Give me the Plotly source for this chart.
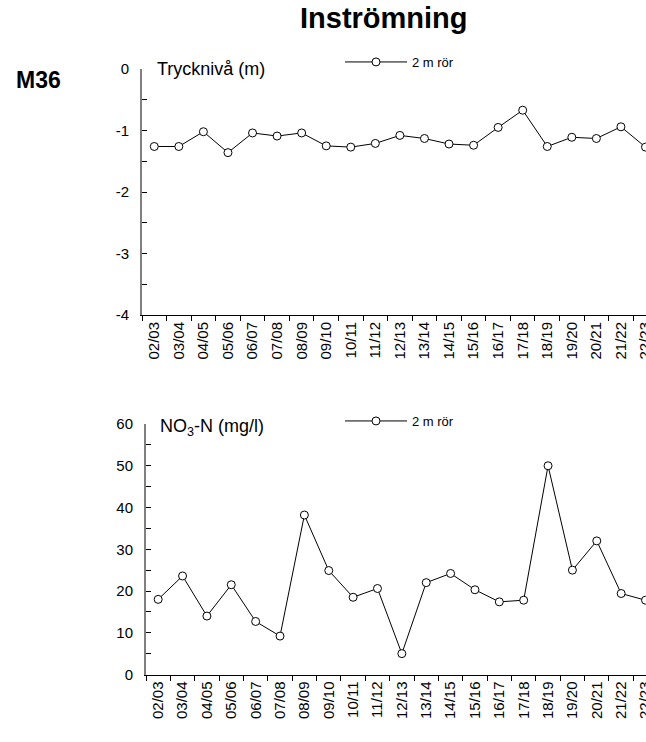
import plotly.graph_objects as go

W, H = 646, 742

seasons = ["02/03", "03/04", "04/05", "05/06", "06/07", "07/08", "08/09", "09/10",
           "10/11", "11/12", "12/13", "13/14", "14/15", "15/16", "16/17", "17/18",
           "18/19", "19/20", "20/21", "21/22", "22/23"]

tryckniva_2m = [-1.26, -1.26, -1.02, -1.36, -1.04, -1.09, -1.04, -1.25, -1.27, -1.21,
                -1.08, -1.13, -1.22, -1.24, -0.95, -0.67, -1.26, -1.11, -1.13, -0.94, -1.27]

no3n_2m = [18.0, 23.6, 14.0, 21.5, 12.7, 9.2, 38.2, 24.9, 18.5, 20.6, 5.0, 22.0,
           24.2, 20.3, 17.4, 17.8, 50.0, 25.0, 32.0, 19.4, 17.8]

top_ticks = [0, -1, -2, -3, -4]
top_ticktext = ["0", "-1", "-2", "-3", "-4"]
bot_ticks = [0, 10, 20, 30, 40, 50, 60]
bot_ticktext = ["0", "10", "20", "30", "40", "50", "60"]

series_name = "2 m rör"
title_text = "Inströmning"
site_text = "M36"
top_label = "Trycknivå (m)"
bot_label = "NO<sub>3</sub>-N (mg/l)"

FONT = "Liberation Sans, Arial, sans-serif"


def px(x):
    return x / W


def py(y):
    return 1 - y / H


top_left = 142
bot_left = 146
x_end = 20.02  # last category sits right at the picture's edge, as in the reference

fig = go.Figure()
marker = dict(symbol="circle", size=8, color="white", line=dict(color="black", width=1))
fig.add_trace(go.Scatter(x=seasons, y=tryckniva_2m, mode="lines+markers", name=series_name,
                         line=dict(color="black", width=1), marker=marker,
                         xaxis="x", yaxis="y", legend="legend"))
fig.add_trace(go.Scatter(x=seasons, y=no3n_2m, mode="lines+markers", name=series_name,
                         line=dict(color="black", width=1), marker=marker,
                         xaxis="x2", yaxis="y2", legend="legend2"))

xcommon = dict(type="category", tickson="boundaries", ticks="outside",
               ticklen=5, tickcolor="black", tickangle=-90, showline=True, linecolor="black",
               linewidth=1, showgrid=False, zeroline=False, range=[-0.5, x_end],
               ticklabeloverflow="allow", automargin=False,
               tickfont=dict(family=FONT, size=15, color="black"))
ycommon = dict(ticks="inside", ticklen=5, tickcolor="black", showline=True, linecolor="#808080",
               linewidth=2, showgrid=False, zeroline=False, ticklabelstandoff=8,
               automargin=False,
               tickfont=dict(family=FONT, size=15, color="black"))

legend_style = dict(xanchor="left", yanchor="middle", bgcolor="rgba(0,0,0,0)",
                    font=dict(family=FONT, size=13, color="black"), itemwidth=62)

fig.update_layout(
    width=W, height=H, margin=dict(l=0, r=0, t=0, b=0, autoexpand=False),
    paper_bgcolor="white", plot_bgcolor="white", showlegend=True,
    xaxis=dict(domain=[px(top_left), 1], anchor="y", **xcommon),
    yaxis=dict(domain=[py(315), py(69)], anchor="x", range=[-4, 0], tickmode="array",
               tickvals=top_ticks, ticktext=top_ticktext,
               minor=dict(ticks="inside", ticklen=5, tickcolor="black", dtick=0.5, tick0=0),
               **ycommon),
    xaxis2=dict(domain=[px(bot_left), 1], anchor="y2", **xcommon),
    yaxis2=dict(domain=[py(674.5), py(424)], anchor="x2", range=[0, 60], tickmode="array",
                tickvals=bot_ticks, ticktext=bot_ticktext,
                minor=dict(ticks="inside", ticklen=5, tickcolor="black", dtick=5, tick0=0),
                **ycommon),
    legend=dict(x=px(340), y=py(62), **legend_style),
    legend2=dict(x=px(340), y=py(421), **legend_style),
    annotations=[
        dict(text="<b>" + title_text + "</b>", x=px(384), y=py(18), xref="paper", yref="paper",
             xanchor="center", yanchor="middle", showarrow=False,
             font=dict(family=FONT, size=29, color="black")),
        dict(text="<b>" + site_text + "</b>", x=px(14), y=py(80), xref="paper", yref="paper",
             xanchor="left", yanchor="middle", showarrow=False,
             font=dict(family=FONT, size=23, color="black")),
        dict(text=top_label, x=px(155), y=py(69), xref="paper", yref="paper",
             xanchor="left", yanchor="middle", showarrow=False,
             font=dict(family=FONT, size=18, color="black")),
        dict(text=bot_label, x=px(158), y=py(427), xref="paper", yref="paper",
             xanchor="left", yanchor="middle", showarrow=False,
             font=dict(family=FONT, size=18, color="black")),
    ],
)

fig.write_html("out.html", config={"displayModeBar": False},
               post_script="document.body.style.margin='0';document.body.style.padding='0';")
